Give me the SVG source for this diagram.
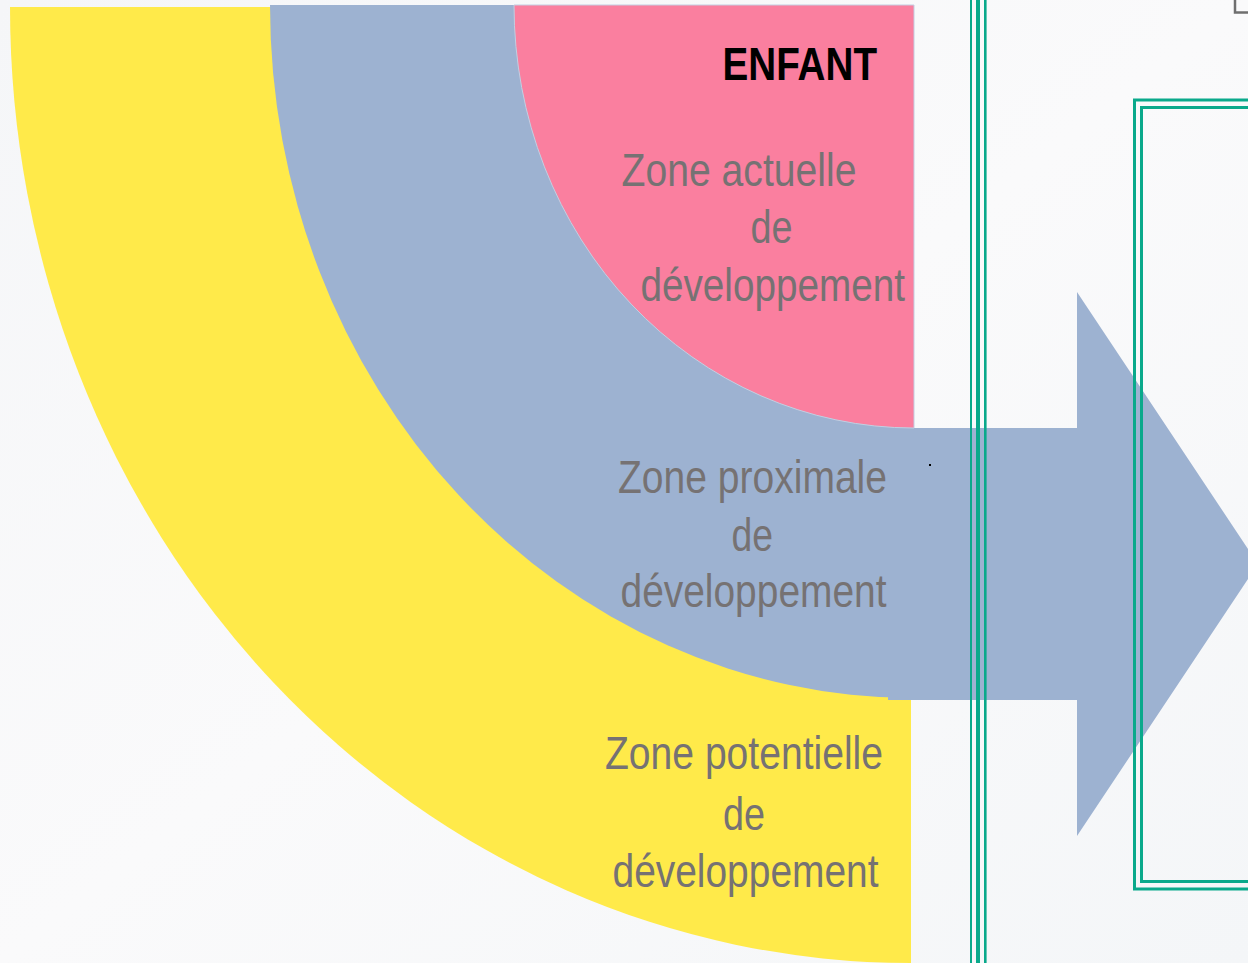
<svg xmlns="http://www.w3.org/2000/svg" width="1248" height="963" viewBox="0 0 1248 963">
<defs>
<style>
.lbl{font-family:"Liberation Sans",Arial,sans-serif;font-size:46px;fill:#767273}
.title{font-family:"Liberation Sans",Arial,sans-serif;font-size:46px;font-weight:bold;fill:#000}
.green{fill:#0aa98b}
.gframe{fill:none;stroke:#0aa98b;stroke-width:3}
</style>
<linearGradient id="bg" x1="0" y1="0" x2="1" y2="1">
<stop offset="0" stop-color="#f5f6f8"/>
<stop offset="0.5" stop-color="#fafafb"/>
<stop offset="1" stop-color="#f4f6f8"/>
</linearGradient>
</defs>
<rect id="background" x="0" y="0" width="1248" height="963" fill="url(#bg)"/>

<g id="zone-potentielle">
<path d="M911,7 L10,7 A901 956 0 0 0 911 963 Z" fill="#ffea4a"/>
<text class="lbl" x="605" y="769" textLength="278" lengthAdjust="spacingAndGlyphs">Zone potentielle</text>
<text class="lbl" x="723" y="830" textLength="42" lengthAdjust="spacingAndGlyphs">de</text>
<text class="lbl" x="612.5" y="886.5" textLength="266" lengthAdjust="spacingAndGlyphs">développement</text>
</g>

<g id="zone-proximale">
<path d="M914,5 L270,5 A644 693 0 0 0 914 698 Z" fill="#9db2d1"/>
<polygon points="888,428 1077,428 1077,292 1258,564 1077,836 1077,700 888,700" fill="#9db2d1"/>
<text class="lbl" x="618" y="493" textLength="269" lengthAdjust="spacingAndGlyphs">Zone proximale</text>
<text class="lbl" x="731.5" y="550.5" textLength="41.5" lengthAdjust="spacingAndGlyphs">de</text>
<text class="lbl" x="620.5" y="606.5" textLength="266" lengthAdjust="spacingAndGlyphs">développement</text>
</g>

<g id="zone-actuelle">
<path d="M914,5 L514,5 A400 423 0 0 0 914 428 Z" fill="#fa7f9f" stroke="#c3cfe2" stroke-width="1"/>
<text class="title" x="722.5" y="80" textLength="154.5" lengthAdjust="spacingAndGlyphs">ENFANT</text>
<text class="lbl" x="621.5" y="186" textLength="235" lengthAdjust="spacingAndGlyphs">Zone actuelle</text>
<text class="lbl" x="750.5" y="242.5" textLength="42" lengthAdjust="spacingAndGlyphs">de</text>
<text class="lbl" x="640.5" y="300.5" textLength="264.5" lengthAdjust="spacingAndGlyphs">développement</text>
</g>

<rect id="dot" x="929" y="464" width="2" height="2" fill="#000"/>

<g id="connectors">
<rect class="green" x="970" y="0" width="2" height="963"/>
<rect class="green" x="976" y="0" width="4" height="963"/>
<rect class="green" x="984" y="0" width="2.6" height="963"/>
<rect class="gframe" x="1134.5" y="100" width="200" height="789"/>
<rect class="gframe" x="1141.5" y="107.5" width="200" height="774"/>
</g>

<g id="corner-box">
<rect x="1235" y="-10" width="40" height="22.5" fill="none" stroke="#6f6f6f" stroke-width="2.5"/>
</g>
</svg>
